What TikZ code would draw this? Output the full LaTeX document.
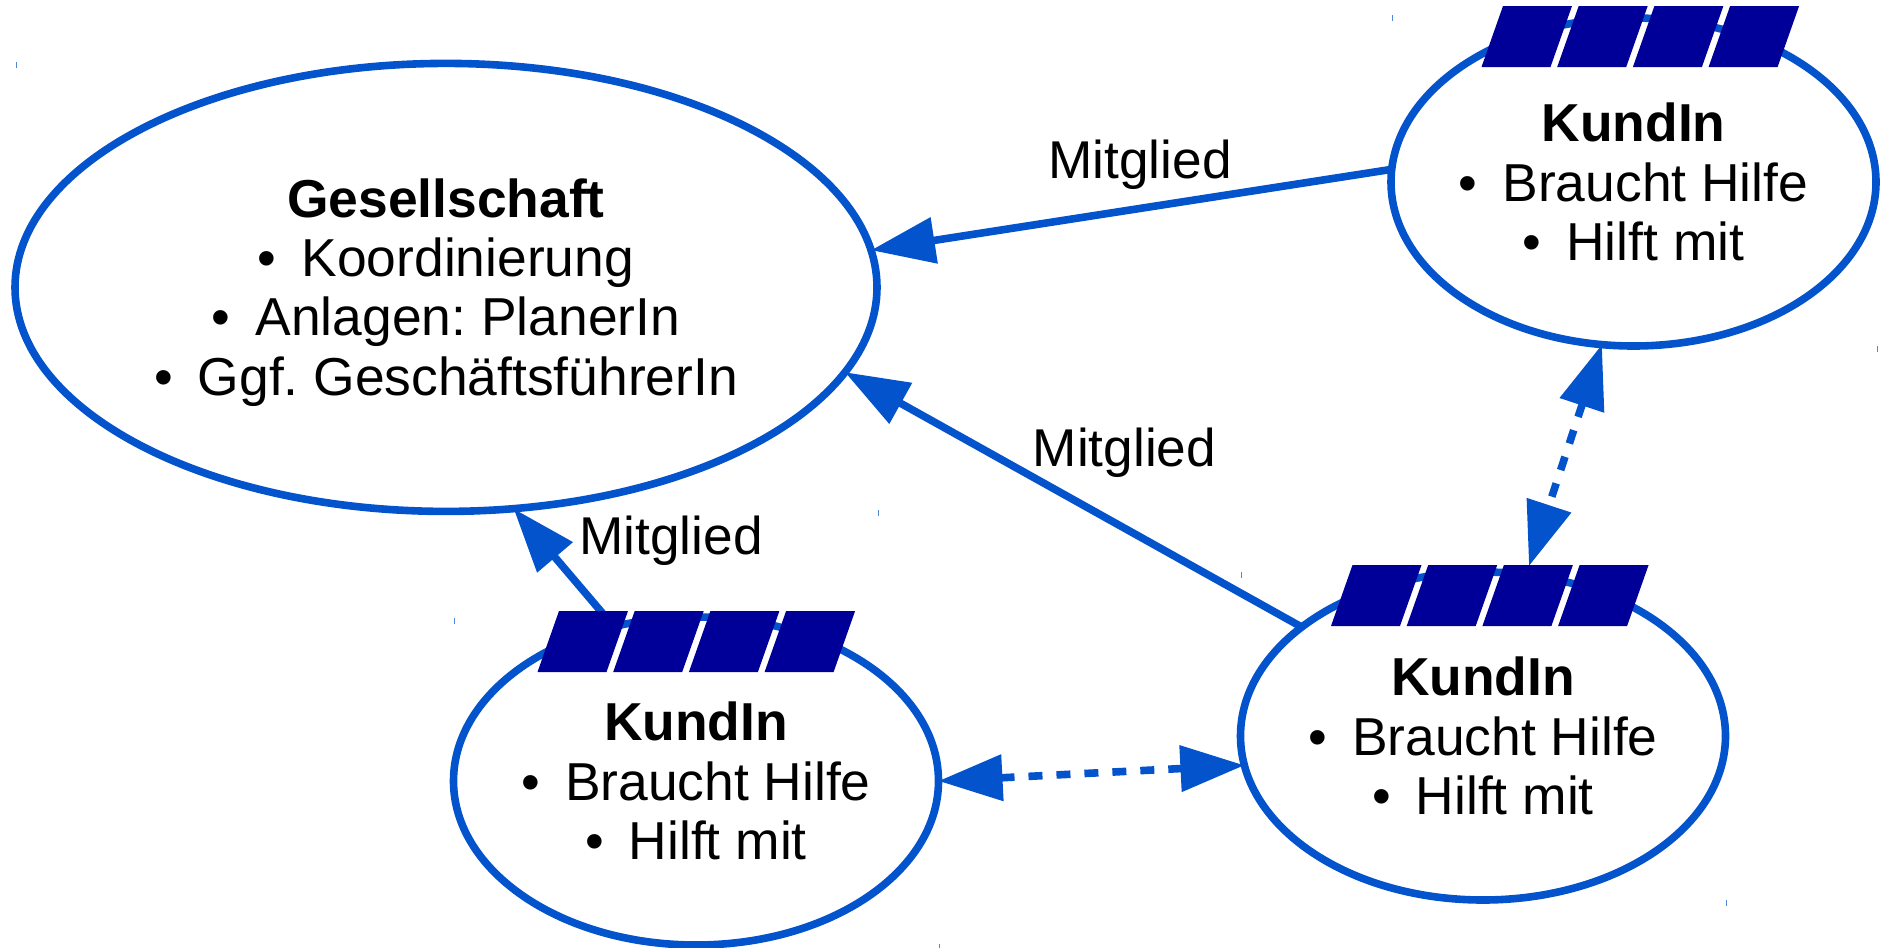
\documentclass[tikz,border=0pt]{standalone}
\usepackage{fontspec}
\setmainfont{Liberation Sans}
\usetikzlibrary{arrows.meta,shapes.geometric}
\definecolor{linkblue}{HTML}{0353CC}
\definecolor{barblue}{HTML}{000099}
\newcommand{\bul}[1]{\textbullet\hspace{0.47em}#1}
\newcommand{\kundintext}{\textbf{KundIn}\\\bul{Braucht Hilfe}\\\bul{Hilft mit}}
\frenchspacing
\tikzset{
  x=0.5pt,y=-0.5pt,
  bubble/.style={ellipse,draw=linkblue,line width=3.8pt,fill=white,inner sep=0pt,outer sep=0pt},
  small bubble/.style={bubble,minimum width=242.5pt,minimum height=164pt},
  bubbletext/.style={align=center,inner sep=0pt,font=\fontsize{26.7}{29.65}\selectfont},
  memberlabel/.style={anchor=base,inner sep=0pt,font=\fontsize{26.6}{29.65}\selectfont},
  member/.style={draw=linkblue,fill=none,line width=3.8pt,-{Triangle[length=32pt,width=22.5pt,fill=linkblue]}},
  mutual/.style={draw=linkblue,line width=3.8pt,dash pattern=on 7pt off 7pt,
    {Triangle[length=32pt,width=22.5pt,fill=linkblue]}-{Triangle[length=32pt,width=22.5pt,fill=linkblue]}},
  barcell/.style={fill=barblue},
  speck/.style={draw=linkblue!70!white,line width=0.5pt}
}
\newcommand{\solarbar}[2]{%
  \foreach \i in {0,1,2,3}{%
    \fill[barcell] ({#1+\i*75.7},#2) -- ++(69,0) -- ++(-21.5,61) -- ++(-69,0) -- cycle;
  }%
}
\begin{document}
\begin{tikzpicture}
\useasboundingbox (0,0) rectangle (1881,948);
% small specks
\foreach \sx/\sy in {16/62,1392/15,878/510,454/618,1241/572,1877/346,1726/900,939/944}{
  \draw[speck] (\sx,\sy) -- ++(0,6);
}
% bubbles
\node[bubble,minimum width=431pt,minimum height=224pt] (society) at (446,287.4) {};
\node[small bubble] (clienttr) at (1633.5,182) {};
\node[small bubble] (clientbr) at (1483,736) {};
\node[small bubble] (clientbl) at (696,781) {};
\coordinate (brbar) at (1529,566);
% connectors
\draw[member] (clienttr.177.8) -- (society.5.2);
\draw[member] (clientbr.149.8) -- (society.-12.9);
\draw[member] (clientbl.118.5) -- (society.-73);
\draw[mutual] (clientbl.-0.5) -- (clientbr.187.5);
\draw[mutual] (clienttr.259.4) -- (brbar);
% solar bars
\solarbar{1503}{6}
\solarbar{1352.5}{565}
\solarbar{559}{611}
% texts
\node[bubbletext] (societytext) at (446,292.5) {\textbf{Gesellschaft}\\\bul{Koordinierung}\\\bul{Anlagen: PlanerIn}\\\bul{Ggf. GeschäftsführerIn}};
\node[bubbletext] (trtext) at (1633.5,182) {\kundintext};
\node[bubbletext] (brtext) at (1483,736) {\kundintext};
\node[bubbletext] (bltext) at (696,781) {\kundintext};
\node[memberlabel] (labeltr) at (1140,178) {Mitglied};
\node[memberlabel] (labelbr) at (1124.5,466) {Mitglied};
\node[memberlabel] (labelbl) at (671,554) {Mitglied};
\end{tikzpicture}
\end{document}
